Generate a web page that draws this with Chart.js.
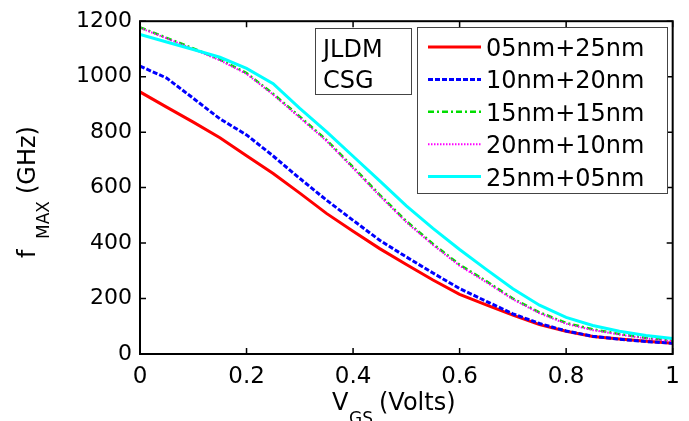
<!DOCTYPE html>
<html>
<head>
<meta charset="utf-8">
<script src="https://cdn.jsdelivr.net/npm/chart.js@4.4.1/dist/chart.umd.min.js"></script>
<style>
  html, body { margin: 0; padding: 0; background: #fff; }
</style>
</head>
<body>
<canvas id="chart" width="689" height="421"></canvas>
<script>
// data (fMAX in GHz vs VGS in volts)
const vgs = [0, 0.05, 0.1, 0.15, 0.2, 0.25, 0.3, 0.35, 0.4, 0.45, 0.5,
             0.55, 0.6, 0.65, 0.7, 0.75, 0.8, 0.85, 0.9, 0.95, 1];
const f05_25 = [945, 890, 836, 780, 715, 651, 580, 507, 443, 380, 323, 267, 215, 177, 140, 106, 82, 63, 54, 46, 39];
const f10_20 = [1038, 995, 922, 848, 790, 714, 633, 555, 482, 410, 350, 292, 236, 190, 145, 110, 83, 64, 53, 45, 39];
const f15_15 = [1178, 1140, 1102, 1062, 1013, 938, 856, 772, 674, 574, 479, 397, 322, 263, 200, 150, 112, 89, 72, 58, 48];
const f20_10 = [1176, 1138, 1099, 1059, 1010, 935, 852, 768, 670, 570, 475, 393, 318, 259, 197, 147, 109, 86, 70, 56, 46];
const f25_05 = [1152, 1125, 1098, 1070, 1030, 975, 886, 802, 713, 624, 534, 453, 377, 305, 235, 176, 132, 103, 82, 67, 56];

const seriesNames = ['05nm+25nm', '10nm+20nm', '15nm+15nm', '20nm+10nm', '25nm+05nm'];
const seriesValues = [f05_25, f10_20, f15_15, f20_10, f25_05];

const xTicks = [0, 0.2, 0.4, 0.6, 0.8, 1];
const xTickLabels = ['0', '0.2', '0.4', '0.6', '0.8', '1'];
const yTicks = [0, 200, 400, 600, 800, 1000, 1200];
const yTickLabels = ['0', '200', '400', '600', '800', '1000', '1200'];

const FONT = "'DejaVu Sans', sans-serif";

const styles = [
  { color: '#ff0000', dash: [], width: 3 },
  { color: '#0000ff', dash: [5, 2], width: 3 },
  { color: '#00dd00', dash: [6, 3, 2, 3], width: 2.5 },
  { color: '#ff00ff', dash: [1.5, 1.5], width: 2 },
  { color: '#00ffff', dash: [], width: 3 }
];

const datasets = seriesValues.map((vals, i) => ({
  label: seriesNames[i],
  data: vals.map((v, k) => ({ x: vgs[k], y: v })),
  borderColor: styles[i].color,
  borderDash: styles[i].dash,
  borderWidth: styles[i].width,
  pointRadius: 0,
  tension: 0,
  fill: false,
  order: 4 - i
}));

// box, inward ticks, axis titles, text boxes
const decorations = {
  id: 'decorations',
  afterDatasetsDraw(chart) {
    const { ctx, chartArea: a, scales: { x, y } } = chart;
    ctx.save();
    ctx.strokeStyle = '#000';
    ctx.lineWidth = 2;
    ctx.strokeRect(a.left, a.top, a.right - a.left, a.bottom - a.top);

    ctx.lineWidth = 1.5;
    ctx.beginPath();
    xTicks.forEach(v => {
      const px = x.getPixelForValue(v);
      ctx.moveTo(px, a.bottom); ctx.lineTo(px, a.bottom - 6);
      ctx.moveTo(px, a.top); ctx.lineTo(px, a.top + 6);
    });
    yTicks.forEach(v => {
      const py = y.getPixelForValue(v);
      ctx.moveTo(a.left, py); ctx.lineTo(a.left + 6, py);
      ctx.moveTo(a.right, py); ctx.lineTo(a.right - 6, py);
    });
    ctx.stroke();

    // JLDM / CSG box
    ctx.fillStyle = '#fff';
    ctx.fillRect(315, 28, 96, 66);
    ctx.strokeStyle = '#444';
    ctx.lineWidth = 1;
    ctx.strokeRect(315.5, 28.5, 96, 66);
    ctx.fillStyle = '#000';
    ctx.font = '24px ' + FONT;
    ctx.textBaseline = 'alphabetic';
    ctx.fillText('JLDM', 323, 57);
    ctx.fillText('CSG', 323, 88);

    // legend
    ctx.fillStyle = '#fff';
    ctx.fillRect(417, 27, 250, 166);
    ctx.strokeStyle = '#444';
    ctx.strokeRect(417.5, 27.5, 250, 166);
    chart.data.datasets.forEach((ds, i) => {
      const cy = 47 + i * 32.4;
      ctx.save();
      ctx.strokeStyle = ds.borderColor;
      ctx.lineWidth = ds.borderWidth;
      ctx.setLineDash(ds.borderDash);
      ctx.beginPath();
      ctx.moveTo(428, cy);
      ctx.lineTo(481, cy);
      ctx.stroke();
      ctx.restore();
      ctx.fillStyle = '#000';
      ctx.font = '24px ' + FONT;
      ctx.fillText(ds.label, 486, cy + 9);
    });
    ctx.restore();
  },
  afterDraw(chart) {
    const ctx = chart.ctx;
    ctx.save();
    ctx.fillStyle = '#000';
    ctx.textBaseline = 'alphabetic';

    // x title: V_GS (Volts)
    ctx.font = '24px ' + FONT;
    ctx.fillText('V', 332, 410);
    ctx.font = '17px ' + FONT;
    ctx.fillText('GS', 349, 424);
    ctx.font = '24px ' + FONT;
    ctx.fillText('(Volts)', 379, 410);

    // y title: f_MAX (GHz)
    ctx.translate(35, 258);
    ctx.rotate(-Math.PI / 2);
    ctx.font = '24px ' + FONT;
    ctx.fillText('f', 0, 0);
    ctx.font = '17px ' + FONT;
    ctx.fillText('MAX', 19, 14);
    ctx.font = '24px ' + FONT;
    ctx.fillText('(GHz)', 64, 0);
    ctx.restore();
  }
};

new Chart(document.getElementById('chart'), {
  type: 'line',
  data: { datasets },
  options: {
    responsive: false,
    animation: false,
    layout: { padding: { top: 14, right: 16, left: 0, bottom: 0 } },
    plugins: { legend: { display: false }, tooltip: { enabled: false } },
    scales: {
      x: {
        type: 'linear',
        min: 0,
        max: 1,
        afterBuildTicks: scale => { scale.ticks = xTicks.map(v => ({ value: v })); },
        afterFit: scale => { scale.height = 67; },
        ticks: {
          callback: v => xTickLabels[xTicks.indexOf(v)],
          color: '#000',
          font: { family: FONT, size: 23 },
          padding: 9,
          maxRotation: 0
        },
        grid: { display: false, drawTicks: false },
        border: { display: false }
      },
      y: {
        min: 0,
        max: 1200,
        afterBuildTicks: scale => { scale.ticks = yTicks.map(v => ({ value: v })); },
        afterFit: scale => { scale.width = 140; },
        ticks: {
          callback: v => yTickLabels[yTicks.indexOf(v)],
          color: '#000',
          font: { family: FONT, size: 22 },
          padding: 8
        },
        grid: { display: false, drawTicks: false },
        border: { display: false }
      }
    }
  },
  plugins: [decorations]
});
</script>
</body>
</html>
